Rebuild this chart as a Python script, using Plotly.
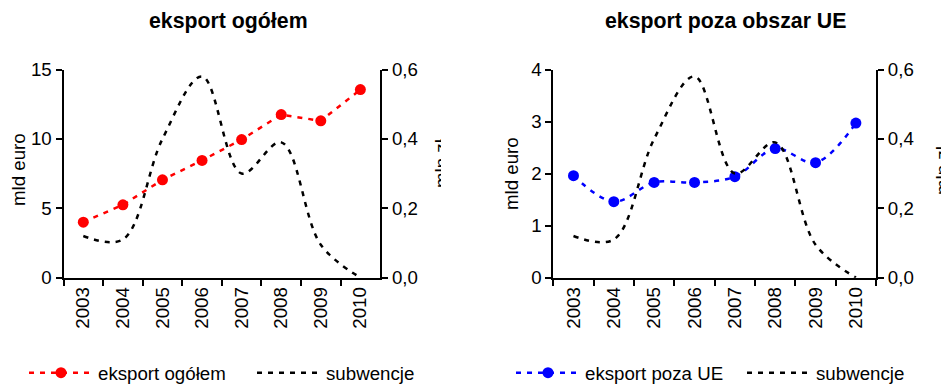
import plotly.graph_objects as go

years = ['2003', '2004', '2005', '2006', '2007', '2008', '2009', '2010']
eksport_ogolem = [4.0, 5.25, 7.05, 8.45, 9.95, 11.75, 11.3, 13.55]
eksport_poza_ue = [1.96, 1.46, 1.83, 1.83, 1.94, 2.48, 2.21, 2.97]
subwencje = [0.12, 0.11, 0.40, 0.58, 0.30, 0.39, 0.095, 0.0]

FONT = "Liberation Sans, Arial, sans-serif"
FS = 18.7
DASH = "5px,6px"
W, H = 941, 384

fig = go.Figure()

fig.add_trace(go.Scatter(x=years, y=eksport_ogolem, name="eksport ogółem",
                         xaxis="x", yaxis="y", mode="lines+markers",
                         line=dict(color="#FF0000", width=2.5, dash=DASH),
                         marker=dict(color="#FF0000", size=11),
                         legend="legend"))
fig.add_trace(go.Scatter(x=years, y=subwencje, name="subwencje",
                         xaxis="x", yaxis="y2", mode="lines",
                         line=dict(color="black", width=2.5, dash=DASH, shape="spline"),
                         legend="legend"))
fig.add_trace(go.Scatter(x=years, y=eksport_poza_ue, name="eksport poza UE",
                         xaxis="x2", yaxis="y3", mode="lines+markers",
                         line=dict(color="#0000FF", width=2.5, dash=DASH, shape="spline"),
                         marker=dict(color="#0000FF", size=11),
                         legend="legend2"))
fig.add_trace(go.Scatter(x=years, y=subwencje, name="subwencje",
                         xaxis="x2", yaxis="y4", mode="lines",
                         line=dict(color="black", width=2.5, dash=DASH, shape="spline"),
                         legend="legend2"))

ydom = [0.277, 0.819]
tickfont = dict(family=FONT, size=FS, color="black")
common_y = dict(showgrid=False, zeroline=False, showline=True, linecolor="black",
                linewidth=2, ticks="outside", ticklen=6, tickwidth=2, tickcolor="black",
                tickfont=tickfont, fixedrange=True)
common_x = dict(type="category", range=[-0.5, 7.5], showgrid=False, zeroline=False,
                showline=True, linecolor="black", linewidth=2, ticks="outside",
                ticklen=6, tickwidth=2, tickcolor="black", tickson="boundaries",
                tickangle=-90, tickfont=tickfont)

legfont = dict(family=FONT, size=FS, color="black")
fig.update_layout(
    width=W, height=H,
    margin=dict(l=0, r=0, t=0, b=0, autoexpand=False),
    paper_bgcolor="white", plot_bgcolor="white",
    separators=", ",
    font=dict(family=FONT, color="black"),
    xaxis=dict(domain=[0.0675, 0.404], anchor="y", **common_x),
    yaxis=dict(domain=ydom, anchor="x", range=[0, 15], dtick=5, **common_y),
    yaxis2=dict(overlaying="y", side="right", anchor="x", range=[0, 0.6], dtick=0.2,
                tickformat=".1f", **common_y),
    xaxis2=dict(domain=[0.588, 0.931], anchor="y3", **common_x),
    yaxis3=dict(domain=ydom, anchor="x2", range=[0, 4], dtick=1, **common_y),
    yaxis4=dict(overlaying="y3", side="right", anchor="x2", range=[0, 0.6], dtick=0.2,
                tickformat=".1f", **common_y),
    legend=dict(orientation="h", x=24 / W, y=1 - 373 / H, xanchor="left", yanchor="middle",
                font=legfont, itemwidth=64, entrywidth=149, entrywidthmode="pixels",
                bgcolor="rgba(0,0,0,0)"),
    legend2=dict(orientation="h", x=511 / W, y=1 - 373 / H, xanchor="left", yanchor="middle",
                 font=legfont, itemwidth=64, entrywidth=152, entrywidthmode="pixels",
                 bgcolor="rgba(0,0,0,0)"),
    showlegend=True,
)

ann = [
    dict(text="<b>eksport ogółem</b>", x=228, y=21, size=21.3),
    dict(text="<b>eksport poza obszar UE</b>", x=725, y=21, size=21.3),
    dict(text="mld euro", x=19, y=170, size=FS, angle=-90),
    dict(text="mld euro", x=512, y=173, size=FS, angle=-90),
    dict(text="mln zł", x=441, y=163, size=FS, angle=-90),
    dict(text="mln zł", x=943, y=170, size=FS, angle=-90),
]
for a in ann:
    fig.add_annotation(text=a["text"], x=a["x"] / W, y=1 - a["y"] / H,
                       xref="paper", yref="paper", xanchor="center", yanchor="middle",
                       showarrow=False, textangle=a.get("angle", 0),
                       font=dict(family=FONT, size=a["size"], color="black"))
# white cover so only a sliver of the left "mln zł" label shows, like the cropped original
fig.add_annotation(text="\u00a0", x=440.5 / W, y=1 - 163 / H, xref="paper", yref="paper",
                   xanchor="left", yanchor="middle", showarrow=False,
                   width=30, height=90, bgcolor="white", borderpad=0, borderwidth=0)

fig.write_html("out.html", config={"displayModeBar": False, "staticPlot": True},
               post_script="document.body.style.margin='0';document.body.style.overflow='hidden';")
